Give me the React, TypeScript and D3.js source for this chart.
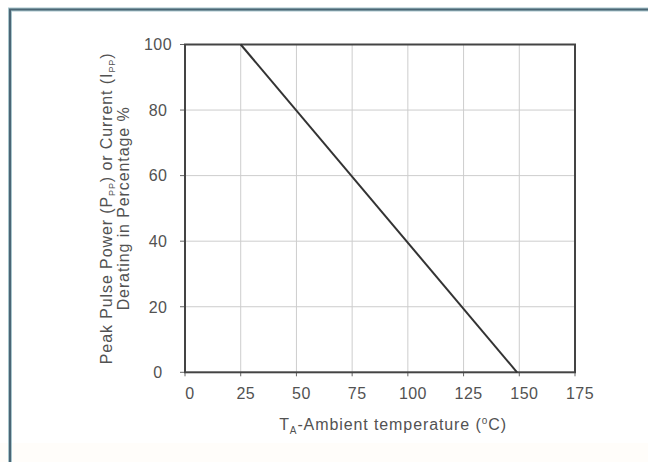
import React from "react";
import * as d3 from "d3";

// Derating curve: percentage of rated peak pulse power/current vs ambient temperature
const curveTemps = [25, 149];
const curvePercent = [100, 0];

const xTicks = [0, 25, 50, 75, 100, 125, 150, 175];
const yTicks = [0, 20, 40, 60, 80, 100];

const W = 648;
const H = 462;
const FONT = "'Liberation Sans', Arial, sans-serif";
const TEXT = "#525252";

export default function App() {
  const x = d3.scaleLinear().domain([0, 175]).range([185, 575]);
  const y = d3.scaleLinear().domain([0, 100]).range([372.3, 44.5]);

  const points: [number, number][] = curveTemps.map((t, i) => [t, curvePercent[i]]);
  const line = d3
    .line<[number, number]>()
    .x((d) => x(d[0]))
    .y((d) => y(d[1]));

  const [x0, x1] = x.range();
  const [y0, y1] = y.range();
  const midY = (y0 + y1) / 2;

  return (
    <svg
      width={W}
      height={H}
      style={{ position: "absolute", left: 0, top: 0, background: "#fff" }}
      fontFamily={FONT}
    >
      <rect x={0} y={443} width={W} height={H - 443} fill="#fffdfa" />
      {/* outer panel edges */}
      <line x1={8} x2={W} y1={9.5} y2={9.5} stroke="#a9c6cd" strokeWidth={4} />
      <line x1={10} x2={10} y1={8} y2={H} stroke="#a9c6cd" strokeWidth={4} />
      <line x1={9} x2={W} y1={9.5} y2={9.5} stroke="#4b6675" strokeWidth={2} />
      <line x1={10} x2={10} y1={9} y2={H} stroke="#4b6675" strokeWidth={2} />

      {/* grid */}
      {xTicks
        .filter((t) => t > 0 && t < 175)
        .map((t) => (
          <line key={"gx" + t} x1={x(t)} x2={x(t)} y1={y1} y2={y0} stroke="#cdcdcd" strokeWidth={1} />
        ))}
      {yTicks
        .filter((t) => t > 0 && t < 100)
        .map((t) => (
          <line key={"gy" + t} x1={x0} x2={x1} y1={y(t)} y2={y(t)} stroke="#cdcdcd" strokeWidth={1} />
        ))}

      {/* ticks */}
      {yTicks.map((t) => (
        <line key={"ty" + t} x1={x0 - 5} x2={x0} y1={y(t)} y2={y(t)} stroke="#666" strokeWidth={1} />
      ))}
      {xTicks.map((t) => (
        <line key={"tx" + t} x1={x(t)} x2={x(t)} y1={y0} y2={y0 + 4} stroke="#666" strokeWidth={1} />
      ))}

      {/* plot frame */}
      <rect x={x0} y={y1} width={x1 - x0} height={y0 - y1} fill="none" stroke="#444" strokeWidth={2} />

      {/* derating line */}
      <path d={line(points) || ""} fill="none" stroke="#333" strokeWidth={2} />

      {/* tick labels */}
      {yTicks.map((t) => (
        <text key={"ly" + t} x={158} y={y(t)} dy="0.36em" textAnchor="middle" fontSize={16} letterSpacing={0.4} fill={TEXT}>
          {t}
        </text>
      ))}
      {xTicks.map((t) => (
        <text key={"lx" + t} x={x(t) + 5} y={399} textAnchor="middle" fontSize={16} letterSpacing={0.4} fill={TEXT}>
          {t}
        </text>
      ))}

      {/* x axis title */}
      <text x={393} y={430} textAnchor="middle" fontSize={16} letterSpacing={0.9} fill={TEXT}>
        <tspan>T</tspan>
        <tspan fontSize={10} dy={4}>A</tspan>
        <tspan dy={-4}>-Ambient temperature (</tspan>
        <tspan fontSize={10} dy={-6}>o</tspan>
        <tspan dy={6}>C)</tspan>
      </text>

      {/* y axis title */}
      <g transform={`translate(112, ${midY}) rotate(-90)`}>
        <text x={0} y={0} textAnchor="middle" fontSize={16} letterSpacing={0.9} fill={TEXT}>
          <tspan>Peak Pulse Power (P</tspan>
          <tspan fontSize={9} dy={3}>PP</tspan>
          <tspan dy={-3}>) or Current (I</tspan>
          <tspan fontSize={9} dy={3}>PP</tspan>
          <tspan dy={-3}>)</tspan>
        </text>
        <text x={0} y={17} textAnchor="middle" fontSize={16} letterSpacing={0.9} fill={TEXT}>
          Derating in Percentage %
        </text>
      </g>
    </svg>
  );
}
